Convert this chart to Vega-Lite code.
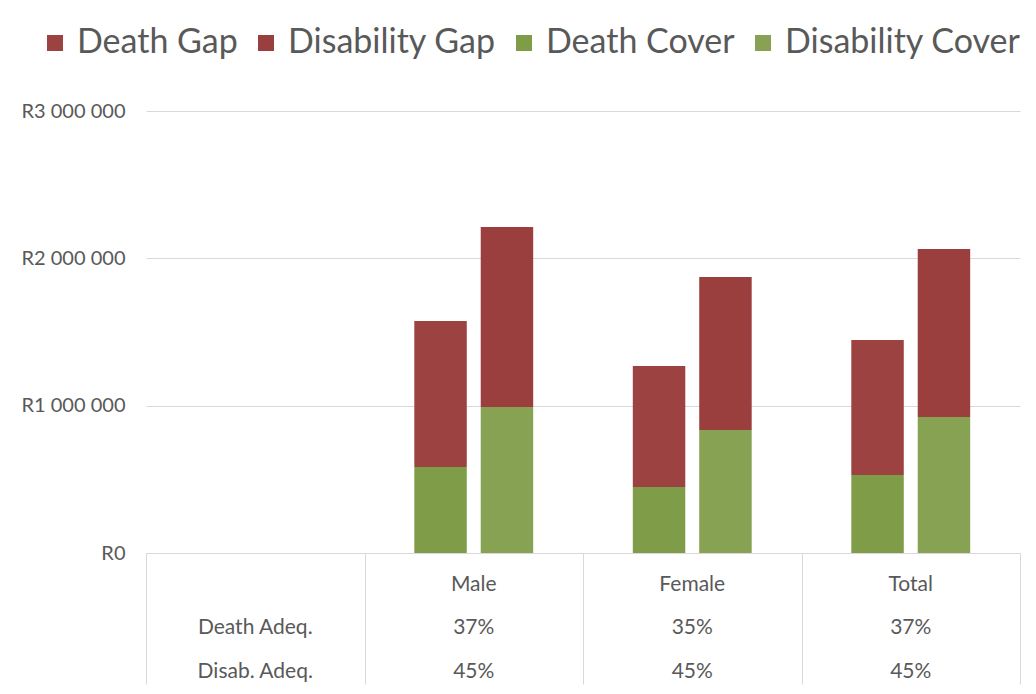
{
  "$schema": "https://vega.github.io/schema/vega-lite/v6.json",
  "padding": {"left": 21, "top": 26, "right": 10, "bottom": 10},
  "spacing": 0,
  "bounds": "flush",
  "config": {"font": "Lato", "view": {"stroke": null}, "concat": {"spacing": 0}},
  "datasets": {
    "bars": [
      {"category": "Male", "measure": "Death", "series": "Death Cover", "amount": 584000},
      {"category": "Male", "measure": "Death", "series": "Death Gap", "amount": 991000},
      {"category": "Male", "measure": "Disability", "series": "Disability Cover", "amount": 991000},
      {"category": "Male", "measure": "Disability", "series": "Disability Gap", "amount": 1222000},
      {"category": "Female", "measure": "Death", "series": "Death Cover", "amount": 448000},
      {"category": "Female", "measure": "Death", "series": "Death Gap", "amount": 822000},
      {"category": "Female", "measure": "Disability", "series": "Disability Cover", "amount": 835000},
      {"category": "Female", "measure": "Disability", "series": "Disability Gap", "amount": 1039000},
      {"category": "Total", "measure": "Death", "series": "Death Cover", "amount": 530000},
      {"category": "Total", "measure": "Death", "series": "Death Gap", "amount": 916000},
      {"category": "Total", "measure": "Disability", "series": "Disability Cover", "amount": 923000},
      {"category": "Total", "measure": "Disability", "series": "Disability Gap", "amount": 1141000}
    ],
    "table": [
      {"category": "Male", "row": "Category", "text": "Male"},
      {"category": "Female", "row": "Category", "text": "Female"},
      {"category": "Total", "row": "Category", "text": "Total"},
      {"category": "Labels", "row": "Death Adeq.", "text": "Death Adeq."},
      {"category": "Male", "row": "Death Adeq.", "text": "37%"},
      {"category": "Female", "row": "Death Adeq.", "text": "35%"},
      {"category": "Total", "row": "Death Adeq.", "text": "37%"},
      {"category": "Labels", "row": "Disab. Adeq.", "text": "Disab. Adeq."},
      {"category": "Male", "row": "Disab. Adeq.", "text": "45%"},
      {"category": "Female", "row": "Disab. Adeq.", "text": "45%"},
      {"category": "Total", "row": "Disab. Adeq.", "text": "45%"}
    ]
  },
  "vconcat": [
    {
      "width": 874,
      "height": 442,
      "data": {"name": "bars"},
      "mark": {"type": "bar"},
      "encoding": {
        "x": {
          "field": "category", "type": "nominal",
          "scale": {"domain": ["Labels", "Male", "Female", "Total"], "paddingInner": 0, "paddingOuter": 0},
          "axis": null
        },
        "xOffset": {
          "field": "measure", "type": "nominal",
          "scale": {"domain": ["Death", "Disability"], "paddingInner": 0.21, "paddingOuter": 0.75}
        },
        "y": {
          "field": "amount", "type": "quantitative", "stack": "zero",
          "scale": {"domain": [0, 3000000]},
          "axis": {
            "values": [0, 1000000, 2000000, 3000000],
            "labelExpr": "datum.value == 0 ? 'R0' : 'R' + format(datum.value / 1000000, 'd') + ' 000 000'",
            "title": null, "domain": false, "ticks": false, "labelPadding": 21,
            "labelFontSize": 20, "labelColor": "#595959", "gridColor": "#D9D9D9"
          }
        },
        "color": {
          "field": "series", "type": "nominal",
          "scale": {
            "domain": ["Death Gap", "Disability Gap", "Death Cover", "Disability Cover"],
            "range": ["#9C4240", "#9A3F3D", "#7F9C48", "#86A252"]
          },
          "legend": {
            "orient": "none", "legendX": -108, "legendY": -85, "direction": "horizontal",
            "title": null, "labelFontSize": 34, "labelColor": "#595959",
            "symbolType": "square", "symbolSize": 256, "symbolStrokeWidth": 0,
            "labelOffset": 5, "columnPadding": 11, "labelLimit": 400
          }
        },
        "order": {"field": "series", "sort": "ascending"}
      }
    },
    {
      "width": 874,
      "height": 131,
      "data": {"name": "table"},
      "mark": {"type": "text", "fontSize": 21, "color": "#595959", "baseline": "middle"},
      "encoding": {
        "x": {
          "field": "category", "type": "nominal",
          "scale": {"domain": ["Labels", "Male", "Female", "Total"], "paddingInner": 0, "paddingOuter": 0},
          "axis": {"labels": false, "ticks": false, "domain": false, "title": null, "grid": true, "tickBand": "extent", "tickExtra": false, "gridColor": "#D9D9D9"}
        },
        "y": {
          "field": "row", "type": "nominal",
          "scale": {"type": "point", "domain": ["Category", "Death Adeq.", "Disab. Adeq."], "padding": 0.506, "align": 0.72},
          "axis": null
        },
        "text": {"field": "text"}
      }
    }
  ]
}
